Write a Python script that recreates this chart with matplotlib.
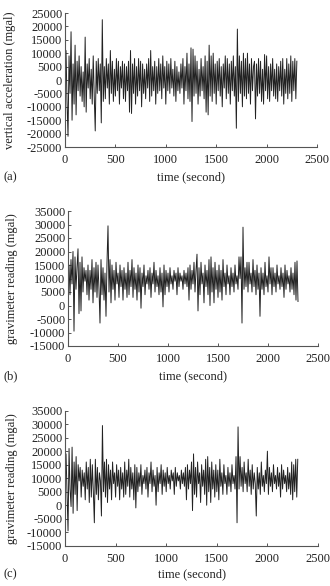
import numpy as np
import matplotlib
matplotlib.use("Agg")
import matplotlib.pyplot as plt

# time axis (seconds), sampled every 10 s
time_s = np.arange(0, 2301, 10)

# (a) vertical acceleration, thousands of mgal
accel_k = [
    2, 11, -8, -21, 9, -5, 18, -15, 6, -9,
    13, -13, 7, -4, 9, -6, 5, -8, 3, -10,
    16, -12, 6, -3, 8, -7, 4, -9, 9, -6,
    -19, 7, -5, 8, -4, 6, -16, 22.5, -8, 5,
    -7, 8, -3, 6, -9, 11, -5, 7, -8, 4,
    -6, 8, -4, 7, -9, 5, -3, 7, -7, 6,
    -8, 5, -4, 7, -12, 11, -12.5, 6, -5, 8,
    -9, 5, -6, 8, -4, 7, -10, 6, -5, 4,
    -7, 6, -3, 8, -8, 11, -6, 5, -4, 7,
    -9, 5, -5, 8, -4, 6, -7, 9, -3, 5,
    -9, 7, -4, 6, -5, 8, -3, 4, -6, 7,
    -8, 5, -4, 3, -5, 6, -3, 8, -9, 5,
    -4, 10, -7, 6, -8, 12, -15.5, 11.5, -6, 9,
    -5, 7, -9, 4, -6, 8, -4, 5, -7, 9,
    -12, 7, -13, 13, -6, 9, -8, 10, -5, 6,
    -9, 7, -4, 8, -6, 5, -10, 6, -3, 9,
    -7, 8, -5, 6, -9, 7, -4, 9, -6, 5,
    -18, 19, -8, 9, -5, 7, -10, 10, -6, 8,
    -7, 10, -5, 6, -9, 8, -4, 5, 7, -14.5,
    6, -6, 8, -5, 7, -8, 4, -9, 9.5, -4,
    9, -7, 5, -8, 6, -4, 8, -6, 4, -7,
    6, -8, 5, -4, 7, -6, 8, -9, 4, -5,
    8, -7, 6, -5, 9, -8, 7, -4, 8, -7,
    7,
]

# (b) gravimeter reading, thousands of mgal
grav_b_k = [
    10, 15, 4, 17, 8, 20, -9.5, 18, 6, 14,
    21, -3, 16, -2, 18, 5, 14, 9, 13, 4,
    15, 2, 13, 6, 17, 1, 14, 5, 16, 3,
    15, 6, -6.5, 17, 4, 14, 2, 12, -4, 16,
    29.5, 5, 17, 1, 15, 6, 13, 2, 16, 8,
    12, 3, 15, 7, 13, 2, 14, 6, 12, 3,
    16, 4, 13, 7, 17, 3, 14, 6, 12, 2,
    15, 5, 14, -1, 12, 7, 15, 4, 11, 8,
    13, 6, 14, 3, 12, 8, 16, 5, 13, 7,
    11, 4, 14, 5, 12, -0.5, 15, 4, 13, 7,
    12, 5, 14, 8, 11, 6, 13, 9, 12, 4,
    14, 7, 12, 9, 11, 6, 13, 8, 12, 7,
    14, 2, 15, 6, 13, 8, 16, 5, 13, 19,
    -2, 14, 4, 16, 8, 12, 1, 15, 7, 13,
    4, 17, 0, 18, 5, 14, 1, 16, 6, 13,
    3, 15, 5, 13, 2, 17, 7, 12, 4, 15,
    8, 11, 4, 14, 7, 12, 5, 15, 8, 11,
    6, 18, 10, 18, -6.5, 29, 6, 14, 7, 16,
    5, 16, 8, 12, 5, 17, 7, 13, 4, 15,
    6, 12, -4, 14, 6, 12, 4, 16, 7, 11,
    5, 18, 8, 14, 4, 14, 7, 12, 5, 15,
    8, 11, 6, 14, 7, 12, 3, 15, 6, 13,
    8, 11, 5, 14, 6, 12, 4, 16, 2, 16.5,
    1.5,
]

# (c) gravimeter reading, thousands of mgal
grav_c_k = [
    12, 19, 5, -9.5, 21, 6, -0.5, 21.5, -3, 16,
    4, 18, -2, 15, 9, 14, 3, 13, 7, 12,
    2, 16, 6, 14, 1, 17, 3, 15, 5, -6.5,
    17, 4, 14, 2, 12, 9, -4, 29.5, 5, 16,
    3, 17, 1, 15, 6, 13, 2, 16, 8, 12,
    3, 15, 7, 13, 2, 14, 6, 12, 3, 16,
    4, 13, 7, 17, 3, 14, 6, 12, 2, 15,
    -1, 14, 5, 12, 7, 15, 4, 11, 8, 13,
    6, 14, 3, 12, 8, 16, 5, 13, 7, 11,
    0, 14, 5, 12, 8, 15, 4, 13, 7, 12,
    5, 14, 8, 11, 6, 13, 9, 12, 4, 14,
    7, 12, 9, 11, 6, 13, 8, 12, 7, 14,
    2, 15, 6, 13, 8, 16, -2, 19, 4, 14,
    3, 16, 8, 12, 1, 15, 7, 13, 4, 17,
    0, 18, 5, 14, 1, 16, 6, 13, 3, 15,
    5, 13, 2, 17, 7, 12, 4, 15, 8, 11,
    4, 14, 7, 12, 5, 15, 8, 11, 6, 18,
    -6.5, 29, 6, 18, 7, 14, 5, 16, 8, 12,
    5, 17, 7, 13, 4, 15, 6, 12, 8, -4,
    14, 6, 12, 4, 16, 7, 11, 5, 13, 8,
    20, 4, 14, 7, 12, 5, 15, 8, 11, 6,
    14, 7, 12, 3, 15, 6, 13, 8, 11, 5,
    14, 6, 12, 4, 16, 2, 15, 5, 17, 3,
    17,
]

x_ticks = [0, 500, 1000, 1500, 2000, 2500]
yticks_a = list(range(-25000, 25001, 5000))
yticks_bc = list(range(-15000, 35001, 5000))

W, H = 330, 586
fig = plt.figure(figsize=(W / 100, H / 100), dpi=100)
plt.rcParams['font.family'] = ['Liberation Serif', 'DejaVu Serif']

FS = 9
LINE = '#222222'
SPINE = '#555555'


def make_axes(l, r, t, b):
    return fig.add_axes([l / W, 1 - b / H, (r - l) / W, (b - t) / H])


panels = [
    dict(box=(65, 317, 13, 147), y=np.array(accel_k) * 1000, yl=(-25000, 25000), yt=yticks_a,
         ylabel='vertical acceleration (mgal)', ylx=10, tag='(a)', xly=177),
    dict(box=(68, 318, 211, 346), y=np.array(grav_b_k) * 1000, yl=(-15000, 35000), yt=yticks_bc,
         ylabel='gravimeter reading (mgal)', ylx=12, tag='(b)', xly=376),
    dict(box=(65, 318, 410.7, 545.7), y=np.array(grav_c_k) * 1000, yl=(-15000, 35000), yt=yticks_bc,
         ylabel='gravimeter reading (mgal)', ylx=12, tag='(c)', xly=574),
]

for p in panels:
    l, r, t, b = p['box']
    ax = make_axes(l, r, t, b)
    ax.plot(time_s, p['y'], color=LINE, lw=0.7)
    ax.set_xlim(0, 2500)
    ax.set_ylim(*p['yl'])
    ax.set_xticks(x_ticks)
    ax.set_yticks(p['yt'])
    ax.set_yticklabels([str(v) for v in p['yt']])
    for s in ('top', 'right'):
        ax.spines[s].set_visible(False)
    for s in ('left', 'bottom'):
        ax.spines[s].set_color(SPINE)
        ax.spines[s].set_linewidth(0.8)
    ax.tick_params(direction='in', length=2.5, width=0.7, color=SPINE,
                   labelsize=FS, pad=2, colors='#222222')
    ax.tick_params(axis='x', pad=5)
    ax.set_facecolor('none')
    fig.text((l + r) / 2 / W, 1 - p['xly'] / H, 'time (second)', ha='center', va='center',
             fontsize=FS, color='#222222')
    fig.text(p['ylx'] / W, 1 - (t + b) / 2 / H, p['ylabel'], rotation=90, ha='center',
             va='center', fontsize=FS, color='#222222')
    fig.text(3 / W, 1 - p['xly'] / H, p['tag'], ha='left', va='center', fontsize=FS,
             color='#222222')

fig.savefig('out.png', dpi=100)
